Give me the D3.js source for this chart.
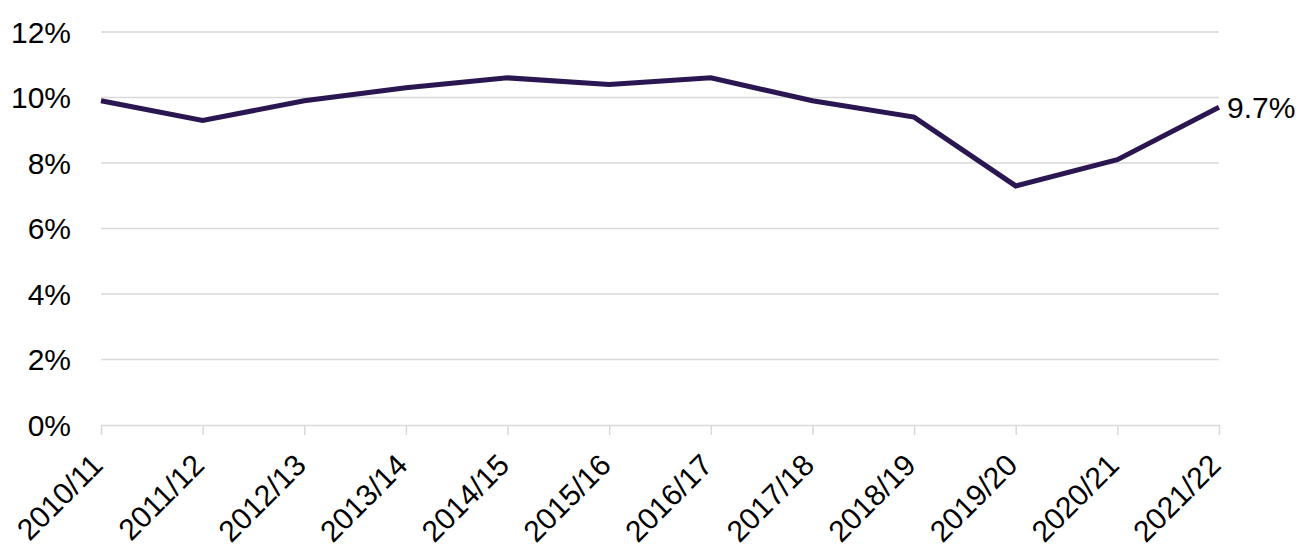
<!DOCTYPE html>
<html><head><meta charset="utf-8">
<script src="https://cdn.jsdelivr.net/npm/d3@7"></script>
<style>body{margin:0;background:#fff;} text{font-family:"Liberation Sans",Arial,sans-serif;}</style>
</head><body>
<svg id="c" width="1301" height="547"></svg>
<script>
const categories = ["2010/11","2011/12","2012/13","2013/14","2014/15","2015/16","2016/17","2017/18","2018/19","2019/20","2020/21","2021/22"];
const values = [9.9, 9.3, 9.9, 10.3, 10.6, 10.4, 10.6, 9.9, 9.4, 7.3, 8.1, 9.7];
const yTicks = [0, 2, 4, 6, 8, 10, 12];
const endLabel = "9.7%";

const svg = d3.select("#c");
const mLeft = 101, mRight = 1219, mTop = 32, mBottom = 425;
const x = d3.scalePoint().domain(categories).range([mLeft, mRight]);
const y = d3.scaleLinear().domain([0, 12]).range([mBottom, mTop]);

// gridlines
svg.append("g").selectAll("line").data(yTicks.filter(d => d > 0)).join("line")
  .attr("x1", mLeft).attr("x2", mRight)
  .attr("y1", d => y(d)).attr("y2", d => y(d))
  .attr("stroke", "#d9d9d9").attr("stroke-width", 1.5);

// y labels
svg.append("g").selectAll("text").data(yTicks).join("text")
  .attr("x", 71).attr("y", d => y(d)).attr("dy", "0.36em")
  .attr("text-anchor", "end").attr("font-size", 30).attr("fill", "#000")
  .text(d => d + "%");

// x axis
const xAxis = svg.append("g").attr("transform", `translate(0,${mBottom})`)
  .call(d3.axisBottom(x).tickSize(10).tickSizeOuter(0));
xAxis.select(".domain").attr("stroke", "#d9d9d9").attr("stroke-width", 1.5);
xAxis.selectAll(".tick line").attr("stroke", "#d9d9d9").attr("stroke-width", 1.5);
xAxis.selectAll(".tick text")
  .attr("font-size", 30).attr("fill", "#000")
  .attr("font-family", "Liberation Sans, Arial, sans-serif")
  .attr("text-anchor", "end")
  .attr("transform", "translate(3,42) rotate(-45)")
  .attr("dy", 0).attr("y", 0).attr("x", 0);

// line
svg.append("path").datum(values)
  .attr("fill", "none").attr("stroke", "#2a1752").attr("stroke-width", 5)
  .attr("stroke-linejoin", "miter")
  .attr("d", d3.line().x((d, i) => x(categories[i])).y(d => y(d)));

// end label
svg.append("text")
  .attr("x", x(categories[categories.length - 1]) + 8)
  .attr("y", y(values[values.length - 1])).attr("dy", "0.36em")
  .attr("font-size", 30).attr("fill", "#000").text(endLabel);
</script>
</body></html>
